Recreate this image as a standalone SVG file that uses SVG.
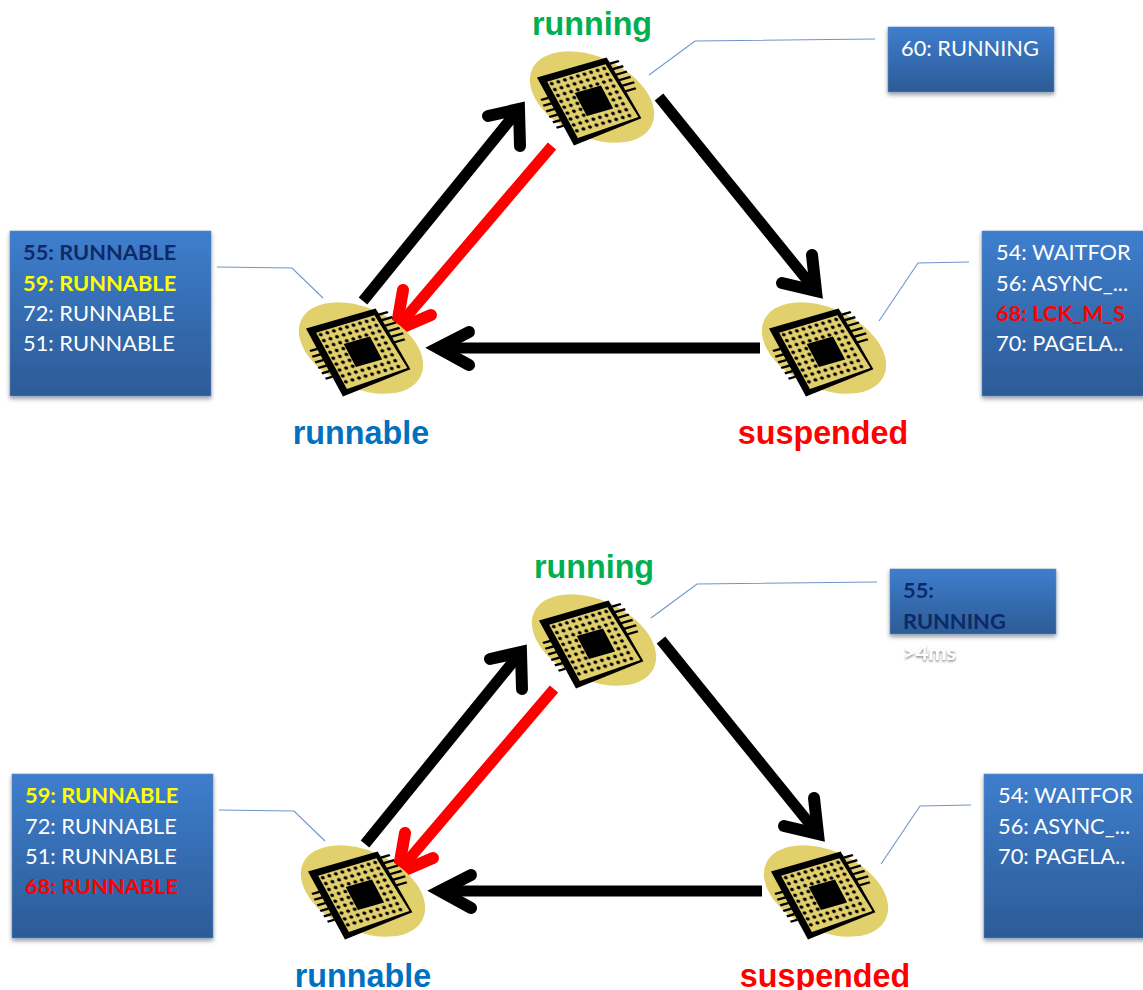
<svg xmlns="http://www.w3.org/2000/svg" width="1143" height="990" viewBox="0 0 1143 990">
<style>
.box{fill:url(#bg);stroke:#5c8ac4;stroke-width:.6;filter:url(#sh)}
.t{font:21.8px Lato,"Liberation Sans",sans-serif;fill:#fff}
.b{font-weight:700}
.navy{fill:#0d2a66}.yel{fill:#ff0}.red{fill:#f00}
.lab{font:700 32.3px "Liberation Sans",Arial,sans-serif;text-anchor:middle}
.leader{fill:none;stroke:#6f96c8;stroke-width:1.1}
.shaft{fill:none;stroke-width:11}
.head{fill:none;stroke-width:12;stroke-linecap:round;stroke-linejoin:miter;stroke-miterlimit:8}
.k{stroke:#000}.r{stroke:#f00}
</style>
<defs>
<linearGradient id="bg" x1="0" y1="0" x2="0" y2="1"><stop offset="0" stop-color="#3e7ecd"/><stop offset="1" stop-color="#2c5b96"/></linearGradient>
<filter id="sh" x="-5%" y="-5%" width="110%" height="115%"><feDropShadow dx="0" dy="2.5" stdDeviation="2" flood-color="#000" flood-opacity=".4"/></filter>
<filter id="gl" x="-20%" y="-30%" width="140%" height="170%"><feDropShadow dx="0" dy="1.5" stdDeviation="1.2" flood-color="#555" flood-opacity=".75"/></filter>
<pattern id="dots" patternUnits="userSpaceOnUse" x="8.75" y="8.75" width="9.5" height="9.5"><circle cx="4.75" cy="4.75" r="2.6" fill="#000"/></pattern>
<g id="chip">
<ellipse cx="0" cy="0" rx="66" ry="40" transform="rotate(25)" fill="#e2d06d"/>
<g transform="matrix(.69 -.2 .33 .62 -54 -19)">
<g stroke="#000" stroke-width="3.4" fill="none">
<path d="M100 9H113M100 18H115M100 27H116M100 36H117M100 45H118M100 54H116"/>
<path d="M0 32H-11M0 41H-12M0 50H-12M0 59H-12M0 68H-11M0 77H-10"/>
</g>
<polygon points="-1,-1 100,-1 103,98 0,109" fill="#000"/>
<polygon points="9,9 94,8 100,95 10,100" fill="#e2d06d"/>
<polygon points="9,9 95,9 96,95 9,95" fill="url(#dots)"/>
<rect x="36.5" y="36.5" width="38" height="38" fill="#e2d06d"/>
<rect x="36" y="36" width="38" height="37" fill="#000"/>
</g>
</g>
<g id="arrows">
<path class="shaft k" d="M363 301L519 109"/>
<polyline class="head k" points="488,116 519,109 520,146"/>
<path class="shaft k" d="M659 97L816 291"/>
<polyline class="head k" points="812,255 816,291 782,283"/>
<path class="shaft r" d="M552 146L396 329"/>
<polyline class="head r" points="403,290 396,330 431,315"/>
<path class="shaft k" d="M760 348H440"/>
<polyline class="head k" points="469,332 438,348 469,365"/>
</g>
</defs>
<g id="connectors">
<use href="#arrows"/>
<use href="#arrows" x="2" y="543"/>
<path class="leader" d="M649 75L695 41L875 39M217 267L292 268L323 298M879 321L918 263L969 262"/>
<path class="leader" d="M651 618L697 584L877 582M219 810L294 811L325 841M881 864L920 806L971 805"/>
</g>
<g id="top-running"><use href="#chip" x="592" y="97"/><text class="lab" x="592" y="35" fill="#00b050">running</text></g>
<g id="top-runnable"><use href="#chip" x="361" y="348"/><text class="lab" x="361" y="444" fill="#0070c0">runnable</text></g>
<g id="top-suspended"><use href="#chip" x="824" y="348"/><text class="lab" x="823" y="444" fill="#f00">suspended</text></g>
<g id="top-box-running"><rect class="box" x="888" y="27" width="166" height="65"/><text class="t" x="901" y="56">60: RUNNING</text></g>
<g id="top-box-runnable"><rect class="box" x="10" y="231" width="201" height="165"/>
<text class="t b navy" x="23" y="260">55: RUNNABLE</text><text class="t b yel" x="23" y="291">59: RUNNABLE</text><text class="t" x="23" y="321">72: RUNNABLE</text><text class="t" x="23" y="351">51: RUNNABLE</text></g>
<g id="top-box-suspended"><rect class="box" x="982" y="231" width="165" height="165"/>
<text class="t" x="996" y="260">54: WAITFOR</text><text class="t" x="996" y="291">56: ASYNC_...</text><text class="t b red" x="996" y="321">68: LCK_M_S</text><text class="t" x="996" y="351">70: PAGELA..</text></g>
<g id="bottom-running"><use href="#chip" x="594" y="640"/><text class="lab" x="594" y="578" fill="#00b050">running</text></g>
<g id="bottom-runnable"><use href="#chip" x="363" y="891"/><text class="lab" x="363" y="987" fill="#0070c0">runnable</text></g>
<g id="bottom-suspended"><use href="#chip" x="826" y="891"/><text class="lab" x="825" y="987" fill="#f00">suspended</text></g>
<g id="bottom-box-running"><rect class="box" x="890" y="569" width="166" height="65"/>
<text class="t b navy" x="903" y="598">55:</text><text class="t b navy" x="903" y="629">RUNNING</text><text class="t b" x="903" y="660" style="filter:url(#gl)">&gt;4ms</text></g>
<g id="bottom-box-runnable"><rect class="box" x="12" y="774" width="201" height="164"/>
<text class="t b yel" x="25" y="803">59: RUNNABLE</text><text class="t" x="25" y="834">72: RUNNABLE</text><text class="t" x="25" y="864">51: RUNNABLE</text><text class="t b red" x="25" y="894">68: RUNNABLE</text></g>
<g id="bottom-box-suspended"><rect class="box" x="984" y="774" width="165" height="164"/>
<text class="t" x="998" y="803">54: WAITFOR</text><text class="t" x="998" y="834">56: ASYNC_...</text><text class="t" x="998" y="864">70: PAGELA..</text></g>
</svg>
